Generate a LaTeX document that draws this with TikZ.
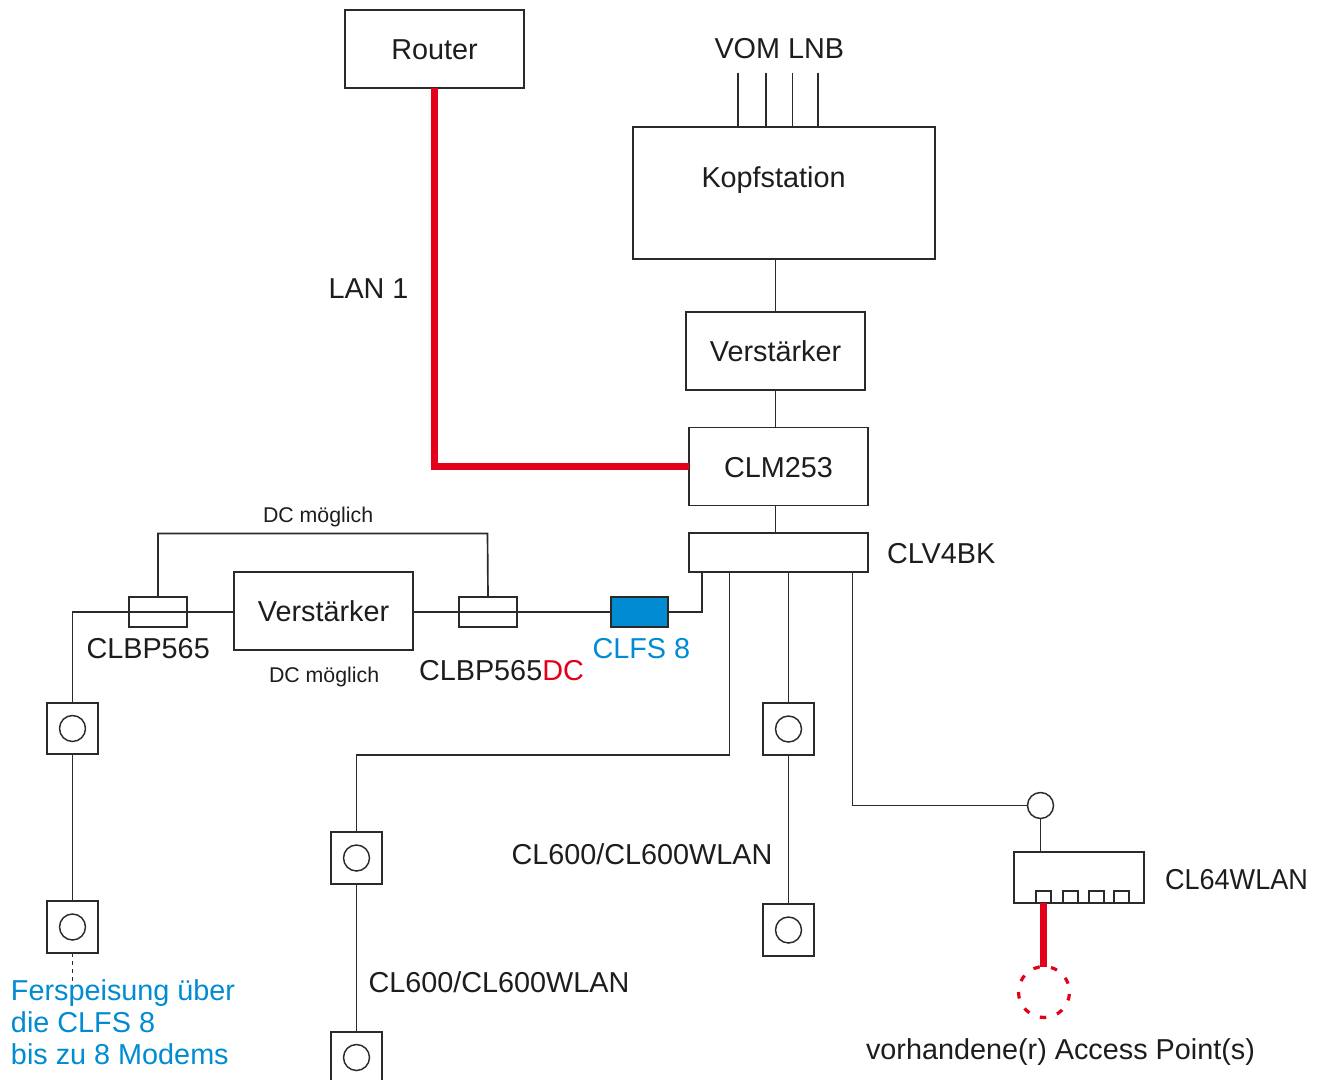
\documentclass[tikz,border=0pt]{standalone}
\usepackage{fontspec}
\setmainfont{Liberation Sans}
\usetikzlibrary{calc}
\definecolor{ink}{HTML}{1D1D1B}
\definecolor{lineink}{HTML}{2B2A29}
\definecolor{kblue}{HTML}{008BD2}
\definecolor{kred}{HTML}{E2001A}
\tikzset{
  wh/.style 2 args={minimum width=#1*0.75pt,minimum height=#2*0.75pt},
  conn/.style={draw=lineink,line width=1.25pt},
  box/.style={draw=lineink,line width=1.25pt,rectangle,inner sep=0pt,outer sep=0pt,text=ink,
    font=\fontsize{21.6}{24}\selectfont,text height=16pt,text depth=0pt,align=center},
  part/.style={draw=lineink,line width=1.25pt,rectangle,inner sep=0pt,outer sep=0pt},
  ringc/.style={draw=lineink,line width=1.1pt,circle,inner sep=0pt,outer sep=0pt,minimum size=26*0.75pt},
  big/.style={inner sep=0pt,outer sep=0pt,anchor=base west,text=ink,font=\fontsize{21.6}{24}\selectfont},
  small/.style={inner sep=0pt,outer sep=0pt,anchor=base west,text=ink,font=\fontsize{16}{20}\selectfont},
  redline/.style={draw=kred,line width=5.6pt},
}
\newcommand{\sock}[3]{%
  \node[part,wh={51.5}{51.5}] (#1) at (#2,#3) {};
  \node[ringc] (#1r) at (#2,#3) {};
}
\begin{document}
\begin{tikzpicture}[x=0.75pt,y=-0.75pt]
\useasboundingbox (0,0) rectangle (1321,1080);

% main boxes
\node[box,wh={179}{78}] (router) at (434.5,49) {Router};
\node[part,wh={302}{132}] (kopf) at (784,193) {};
\node[big] (kopft) at (701.5,187.6) {Kopfstation};
\node[box,wh={179}{78}] (verst) at (775.5,351) {Verstärker};
\node[box,wh={179}{78}] (clm) at (778.5,466.5) {CLM253};
\node[part,wh={179}{39}] (clv) at (778.5,552.5) {};
\node[box,wh={179}{78}] (verstb) at (323.5,611) {Verstärker};
\node[part,wh={58}{30}] (bpl) at (158,612) {};
\node[part,wh={58}{30}] (bpr) at (488,612) {};
\node[part,fill=kblue,wh={57.5}{30}] (clfs) at (639.5,612) {};

% sockets
\sock{sa}{72.5}{728.5}
\sock{sb}{72.5}{927}
\sock{sc}{356.5}{858}
\sock{sd}{356.5}{1057.5}
\sock{se}{788.5}{729}
\sock{sf}{788.5}{930}

% CL64WLAN
\node[ringc] (ring) at (1040.5,805.5) {};
\node[part,wh={130}{51}] (wlan) at (1079,877.5) {};
\node[part,wh={15}{12}] (pa) at (1043.5,897) {};
\node[part,wh={15}{12}] (pb) at (1070.5,897) {};
\node[part,wh={15}{12}] (pc) at (1096.5,897) {};
\node[part,wh={15}{12}] (pd) at (1121.5,897) {};
\node[circle,draw=kred,line width=2.4pt,inner sep=0pt,outer sep=0pt,minimum size=51*0.75pt,
  dash pattern=on 4.9pt off 8.5pt,dash phase=7pt] (ap) at (1044,992) {};

% free ends
\coordinate (la) at (738,73);
\coordinate (lb) at (766,73);
\coordinate (lc) at (792.5,73);
\coordinate (ld) at (818,73);
\coordinate (bend) at (356.5,755);
\coordinate (dots) at (72.5,1006);
\coordinate (dca) at (158,533.5);
\coordinate (dcb) at (487.5,533.5);

% connectors
\draw[conn] (la) -- (la |- kopf.north);
\draw[conn] (lb) -- (lb |- kopf.north);
\draw[conn] (lc) -- (lc |- kopf.north);
\draw[conn] (ld) -- (ld |- kopf.north);
\draw[conn] (verst.north |- kopf.south) -- (verst.north);
\draw[conn] (verst.south) -- (verst.south |- clm.north);
\draw[conn] (clm.south -| verst.south) -- (verst.south |- clv.north);
\draw[redline] (router.south) |- (clm.west);

\draw[conn] (bpl.north) -- (dca) -- (dcb) -- (bpr.north);
\draw[conn] (sa.north) |- (bpl.west) -- (verstb.west |- bpl.west);
\draw[conn] (verstb.east |- bpr.west) -- (clfs.west);
\draw[conn] ([xshift=-76.5*0.75pt]clv.south) |- (clfs.east);
\draw[conn] ([xshift=-49*0.75pt]clv.south) |- (bend) -- (sc.north);
\draw[conn] (se.north |- clv.south) -- (se.north);
\draw[conn] ([xshift=74*0.75pt]clv.south) |- (ring.west);
\draw[conn] (sa.south) -- (sb.north);
\draw[conn] (sc.south) -- (sd.north);
\draw[conn] (se.south) -- (sf.north);
\draw[conn] (ring.south) -- (ring.south |- wlan.north);
\draw[conn,dash pattern=on 3pt off 3pt] (sb.south) -- (dots);
\draw[redline] (pa.south) -- (pa.south |- ap.north);

% labels
\node[big] (tvom) at (714.5,58.6) {VOM LNB};
\node[big] (tlan) at (328.5,298.6) {LAN 1};
\node[big] (tclv) at (887,563.3) {CLV4BK};
\node[small] (tdca) at (263,522) {DC möglich};
\node[small] (tdcb) at (269,682) {DC möglich};
\node[big] (tbpl) at (86.5,658.3) {CLBP565};
\node[big] (tbpr) at (419,680.3) {CLBP565\textcolor{kred}{DC}};
\node[big,text=kblue] (tfs) at (592.5,658.3) {CLFS 8};
\node[big] (tcla) at (511.5,864.3) {CL600/CL600WLAN};
\node[big] (tclb) at (368.5,992.3) {CL600/CL600WLAN};
\node[big] (tclw) at (1165,889.3) {\scalebox{0.94}[1]{CL64WLAN}};
\node[big] (tap) at (866,1059.3) {vorhandene(r) Access Point(s)};
\node[big,text=kblue] (tfa) at (11,1000.3) {Ferspeisung über};
\node[big,text=kblue] (tfb) at (11,1032.3) {die CLFS 8};
\node[big,text=kblue] (tfc) at (11,1064.3) {bis zu 8 Modems};
\end{tikzpicture}
\end{document}
